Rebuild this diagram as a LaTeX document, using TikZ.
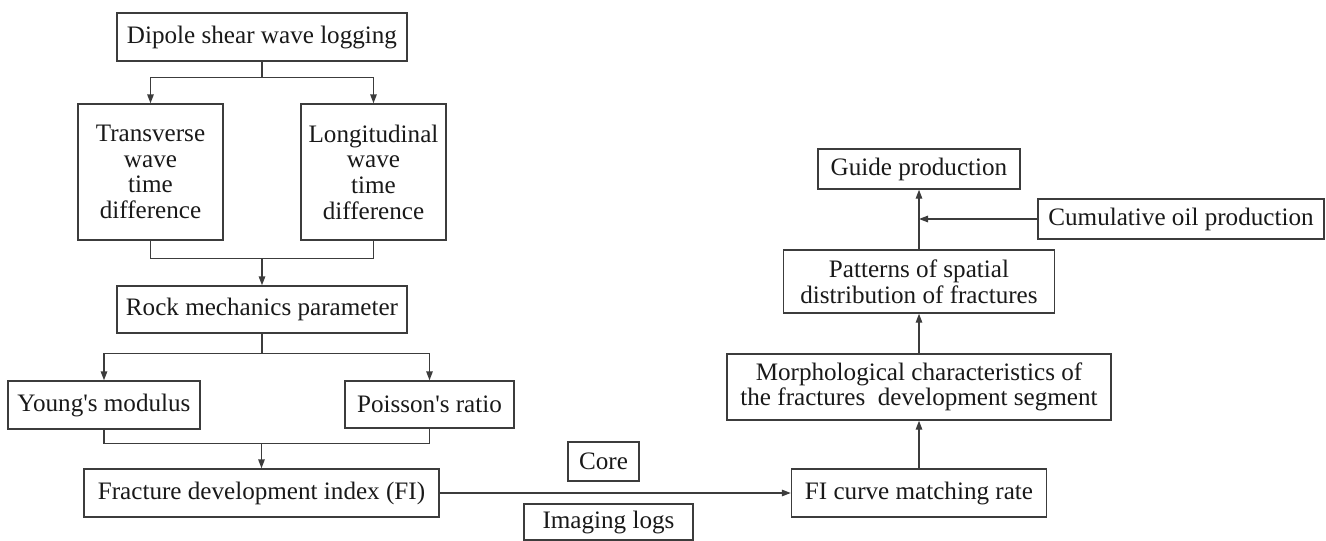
\documentclass[tikz,border=0pt]{standalone}
\usepackage{fontspec}
\setmainfont{Liberation Serif}
\usepackage{tikz}
\usetikzlibrary{arrows.meta}
\definecolor{linegray}{RGB}{60,60,60}
\definecolor{textblack}{RGB}{25,25,25}

\begin{document}
\begin{tikzpicture}[x=0.02cm,y=-0.02cm,
    box/.style={draw=linegray,line width=0.8pt,inner sep=0pt,align=center,text=textblack,
                font=\fontsize{14.3}{14.6}\selectfont},
    link/.style={draw=linegray,line width=0.8pt},
    arr/.style={link,-{Triangle[length=1.8mm,width=1.3mm]}}]
    \useasboundingbox (0,0) rectangle (1326,541);

    % Left column
    \node[box,minimum width=290*0.02cm,minimum height=48*0.02cm] (dipole) at (262,37) {Dipole shear wave logging};
    \node[box,minimum width=145*0.02cm,minimum height=136*0.02cm] (trans) at (150.5,172) {Transverse\\wave\\time\\difference};
    \node[box,minimum width=145*0.02cm,minimum height=136*0.02cm] (longi) at (373.5,172) {Longitudinal\\wave\\time\\difference};
    \node[box,minimum width=290*0.02cm,minimum height=47*0.02cm] (rock) at (262,309.5) {Rock mechanics parameter};
    \node[box,minimum width=192*0.02cm,minimum height=48*0.02cm] (young) at (104,405) {Young\textquotesingle s modulus};
    \node[box,minimum width=169*0.02cm,minimum height=47*0.02cm] (poisson) at (429.5,404.5) {Poisson\textquotesingle s ratio};
    \node[box,minimum width=355*0.02cm,minimum height=48*0.02cm] (fi) at (261.5,493) {Fracture development index (FI)};

    % Middle
    \node[box,minimum width=71*0.02cm,minimum height=39*0.02cm] (core) at (603.5,461.5) {Core};
    \node[box,minimum width=169*0.02cm,minimum height=36*0.02cm] (imaging) at (608.5,522) {Imaging logs};

    % Right column
    \node[box,minimum width=255*0.02cm,minimum height=48*0.02cm] (fic) at (919,493) {FI curve matching rate};
    \node[box,minimum width=384*0.02cm,minimum height=66*0.02cm] (morph) at (919,387) {Morphological characteristics of\\the fractures~ development segment};
    \node[box,minimum width=271*0.02cm,minimum height=63*0.02cm] (pattern) at (919,281.5) {Patterns of spatial\\distribution of fractures};
    \node[box,minimum width=202*0.02cm,minimum height=40*0.02cm] (guide) at (919,169) {Guide production};
    \node[box,minimum width=286*0.02cm,minimum height=40*0.02cm] (cumoil) at (1181,219) {Cumulative oil production};

    % Split and merge
    \path (dipole.south) ++(0,16) coordinate (s1);
    \draw[link] (dipole.south) -- (s1);
    \draw[arr] (s1) -| (trans.north);
    \draw[arr] (s1) -| (longi.north);
    \path (rock.north) ++(0,-27) coordinate (m1);
    \draw[link] (trans.south) |- (m1) -| (longi.south);
    \draw[arr] (m1) -- (rock.north);

    \path (rock.south) ++(0,20) coordinate (s2);
    \draw[link] (rock.south) -- (s2);
    \draw[arr] (s2) -| (young.north);
    \draw[arr] (s2) -| (poisson.north);
    \path (fi.north) ++(0,-25) coordinate (m2);
    \draw[link] (young.south) |- (m2) -| (poisson.south);
    \draw[arr] (m2) -- (fi.north);

    % To the right
    \draw[arr] (fi.east) -- (fic.west);
    \draw[arr] (fic.north) -- (morph.south);
    \draw[arr] (morph.north) -- (pattern.south);
    \draw[arr] (pattern.north) -- (guide.south);
    \draw[arr] (cumoil.west) -- (cumoil.west -| guide.south);
\end{tikzpicture}
\end{document}
